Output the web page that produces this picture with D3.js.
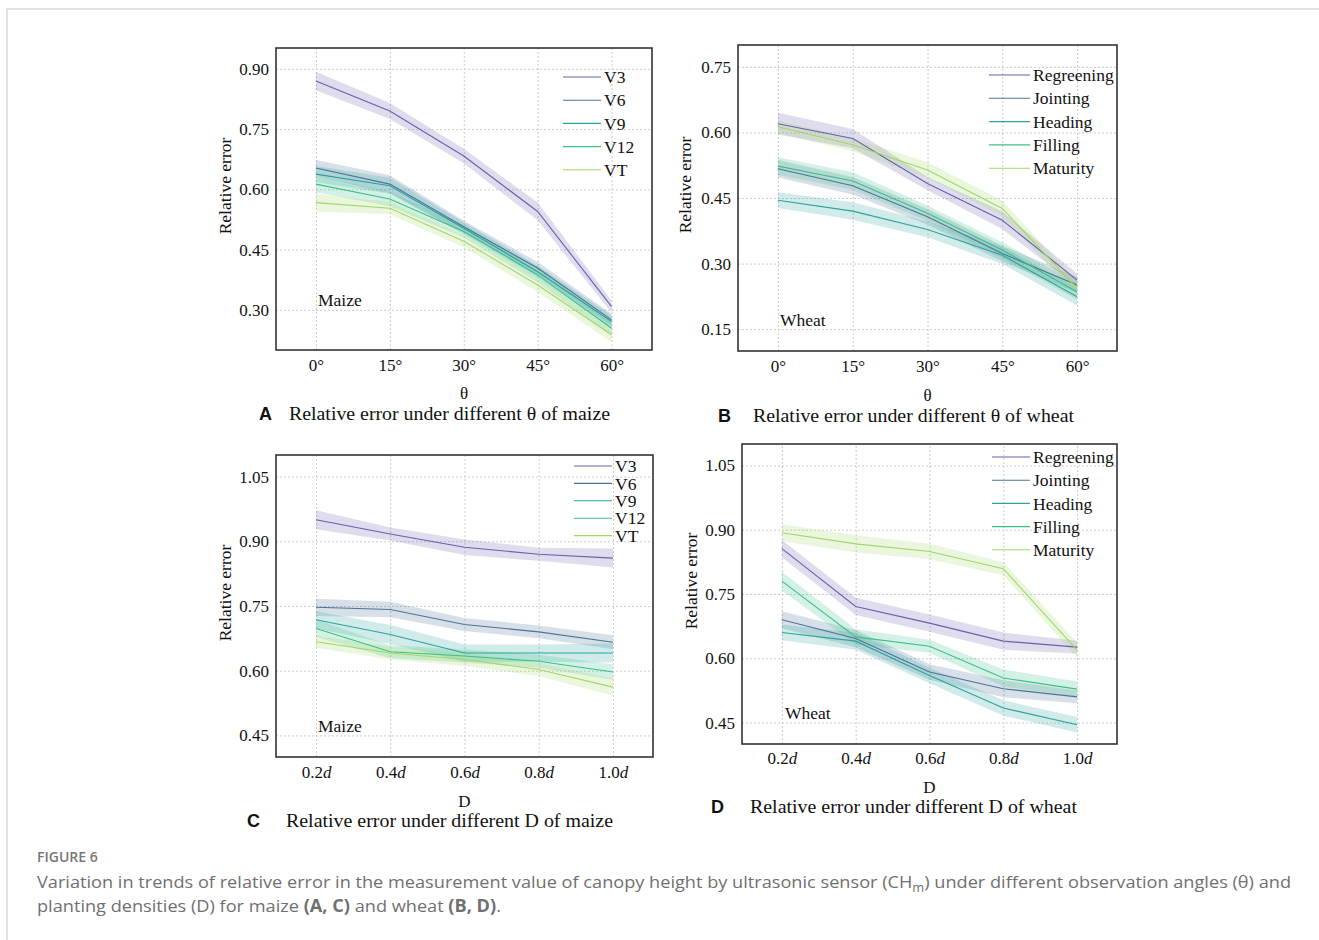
<!DOCTYPE html>
<html>
<head>
<meta charset="utf-8">
<script src="https://cdn.jsdelivr.net/npm/d3@7"></script>
<style>
  body { margin: 0; background: #fff; }
  .grid line { stroke: #cccccc; stroke-dasharray: 2,2; }
</style>
</head>
<body>
<svg width="1319" height="940"></svg>
<script>
// categories / ticks
const thetaValues = [0, 15, 30, 45, 60];
const thetaLabels = ["0°", "15°", "30°", "45°", "60°"];
const densityValues = [0.2, 0.4, 0.6, 0.8, 1.0];
const densityLabels = ["0.2", "0.4", "0.6", "0.8", "1.0"];
const maizeStages = ["V3", "V6", "V9", "V12", "VT"];
const wheatStages = ["Regreening", "Jointing", "Heading", "Filling", "Maturity"];
const colors = ["#6a5fae", "#4a7398", "#2aa39a", "#3cbf88", "#a2d768"];

// A: maize, angle
const maizeThetaMean = [
  [0.870, 0.795, 0.683, 0.545, 0.308],
  [0.653, 0.613, 0.507, 0.404, 0.275],
  [0.638, 0.609, 0.503, 0.395, 0.271],
  [0.613, 0.576, 0.495, 0.387, 0.254],
  [0.567, 0.553, 0.471, 0.362, 0.238]
];
const maizeThetaErr = [
  [0.023, 0.020, 0.018, 0.022, 0.015],
  [0.020, 0.022, 0.015, 0.015, 0.015],
  [0.020, 0.020, 0.015, 0.015, 0.015],
  [0.020, 0.018, 0.015, 0.018, 0.018],
  [0.022, 0.015, 0.015, 0.018, 0.018]
];

// B: wheat, angle
const wheatThetaMean = [
  [0.620, 0.586, 0.483, 0.399, 0.262],
  [0.517, 0.478, 0.407, 0.323, 0.251],
  [0.445, 0.420, 0.378, 0.319, 0.224],
  [0.523, 0.489, 0.415, 0.331, 0.235],
  [0.613, 0.572, 0.514, 0.426, 0.243]
];
const wheatThetaErr = [
  [0.025, 0.022, 0.015, 0.020, 0.015],
  [0.020, 0.020, 0.018, 0.018, 0.018],
  [0.018, 0.020, 0.018, 0.020, 0.020],
  [0.020, 0.020, 0.018, 0.018, 0.018],
  [0.015, 0.015, 0.018, 0.018, 0.015]
];

// C: maize, density
const maizeDensityMean = [
  [0.950, 0.917, 0.886, 0.870, 0.861],
  [0.747, 0.742, 0.707, 0.690, 0.666],
  [0.718, 0.684, 0.641, 0.641, 0.641],
  [0.698, 0.644, 0.634, 0.622, 0.597],
  [0.667, 0.641, 0.626, 0.603, 0.562]
];
const maizeDensityErr = [
  [0.022, 0.015, 0.018, 0.015, 0.022],
  [0.020, 0.018, 0.015, 0.015, 0.016],
  [0.020, 0.022, 0.020, 0.020, 0.022],
  [0.020, 0.015, 0.015, 0.015, 0.018],
  [0.014, 0.015, 0.015, 0.015, 0.020]
];

// D: wheat, density
const wheatDensityMean = [
  [0.856, 0.721, 0.682, 0.640, 0.626],
  [0.690, 0.646, 0.568, 0.529, 0.510],
  [0.660, 0.640, 0.560, 0.484, 0.445],
  [0.780, 0.650, 0.628, 0.554, 0.528],
  [0.893, 0.867, 0.849, 0.809, 0.619]
];
const wheatDensityErr = [
  [0.020, 0.020, 0.020, 0.020, 0.015],
  [0.020, 0.020, 0.018, 0.020, 0.015],
  [0.018, 0.020, 0.018, 0.018, 0.018],
  [0.022, 0.018, 0.015, 0.020, 0.018],
  [0.020, 0.020, 0.018, 0.015, 0.018]
];

const serif = "Liberation Serif, Times New Roman, serif";
const svg = d3.select("svg");

// outer frame
svg.append("rect")
  .attr("x", 7).attr("y", 9).attr("width", 1330).attr("height", 960)
  .attr("fill", "none").attr("stroke", "#cfcfcf").attr("stroke-width", 1.2);

const panels = [
  { box: [276, 48, 652, 350], yDom: [0.2, 0.952], yTicks: [0.30, 0.45, 0.60, 0.75, 0.90],
    xVals: thetaValues, xLabels: thetaLabels, xDom: [-8.1, 68.2], italicD: false, xTitle: "θ",
    mean: maizeThetaMean, err: maizeThetaErr, names: maizeStages, crop: "Maize", cropPos: [318, 306],
    legend: { x: 563, y: 77, dy: 23.2, len: 38 }, yTitleX: 231, tickY: 366, titleY: 399,
    letter: "A", letterX: 259, capX: 289, capY: 420, capW: 321,
    caption: "Relative error under different θ of maize" },
  { box: [738, 45, 1117, 351], yDom: [0.10, 0.80], yTicks: [0.15, 0.30, 0.45, 0.60, 0.75],
    xVals: thetaValues, xLabels: thetaLabels, xDom: [-8, 68], italicD: false, xTitle: "θ",
    mean: wheatThetaMean, err: wheatThetaErr, names: wheatStages, crop: "Wheat", cropPos: [780, 326],
    legend: { x: 989, y: 75, dy: 23.3, len: 41 }, yTitleX: 691, tickY: 367, titleY: 401,
    letter: "B", letterX: 718, capX: 753, capY: 422, capW: 321,
    caption: "Relative error under different θ of wheat" },
  { box: [276, 455, 653, 757], yDom: [0.40, 1.10], yTicks: [0.45, 0.60, 0.75, 0.90, 1.05],
    xVals: densityValues, xLabels: densityLabels, xDom: [0.092, 1.108], italicD: true, xTitle: "D",
    mean: maizeDensityMean, err: maizeDensityErr, names: maizeStages, crop: "Maize", cropPos: [318, 732],
    legend: { x: 574, y: 466, dy: 17.4, len: 38 }, yTitleX: 231, tickY: 773, titleY: 807,
    letter: "C", letterX: 247, capX: 286, capY: 827, capW: 327,
    caption: "Relative error under different D of maize" },
  { box: [742, 444, 1117, 744], yDom: [0.40, 1.10], yTicks: [0.45, 0.60, 0.75, 0.90, 1.05],
    xVals: densityValues, xLabels: densityLabels, xDom: [0.092, 1.108], italicD: true, xTitle: "D",
    mean: wheatDensityMean, err: wheatDensityErr, names: wheatStages, crop: "Wheat", cropPos: [785, 719],
    legend: { x: 992, y: 457, dy: 23.2, len: 38 }, yTitleX: 697, tickY: 759, titleY: 793,
    letter: "D", letterX: 711, capX: 750, capY: 813, capW: 327,
    caption: "Relative error under different D of wheat" }
];

panels.forEach((p) => {
  const [x0, y0, x1, y1] = p.box;
  const x = d3.scaleLinear().domain(p.xDom).range([x0, x1]);
  const y = d3.scaleLinear().domain(p.yDom).range([y1, y0]);
  const g = svg.append("g").attr("font-family", serif).attr("fill", "#111");

  // grid
  g.append("g").attr("class", "grid")
    .attr("transform", `translate(0,${y1})`)
    .call(d3.axisBottom(x).tickValues(p.xVals).tickSize(-(y1 - y0)).tickFormat(""))
    .call((s) => s.select(".domain").remove());
  g.append("g").attr("class", "grid")
    .attr("transform", `translate(${x0},0)`)
    .call(d3.axisLeft(y).tickValues(p.yTicks).tickSize(-(x1 - x0)).tickFormat(""))
    .call((s) => s.select(".domain").remove());

  // bands + lines
  const area = d3.area()
    .x((d) => x(d.x)).y0((d) => y(d.v - d.e)).y1((d) => y(d.v + d.e));
  const line = d3.line().x((d) => x(d.x)).y((d) => y(d.v));
  p.mean.forEach((ser, i) => {
    const pts = ser.map((v, j) => ({ x: p.xVals[j], v: v, e: p.err[i][j] }));
    g.append("path").datum(pts).attr("d", area)
      .attr("fill", colors[i]).attr("fill-opacity", 0.22).attr("stroke", "none");
  });
  p.mean.forEach((ser, i) => {
    const pts = ser.map((v, j) => ({ x: p.xVals[j], v: v }));
    g.append("path").datum(pts).attr("d", line)
      .attr("fill", "none").attr("stroke", colors[i]).attr("stroke-width", 1.1);
  });

  // frame
  g.append("rect").attr("x", x0).attr("y", y0).attr("width", x1 - x0).attr("height", y1 - y0)
    .attr("fill", "none").attr("stroke", "#333").attr("stroke-width", 1.6);

  // y tick labels
  const yAx = g.append("g").attr("transform", `translate(${x0},0)`)
    .call(d3.axisLeft(y).tickValues(p.yTicks).tickSize(0).tickPadding(7).tickFormat(d3.format(".2f")));
  yAx.select(".domain").remove();
  yAx.selectAll("text").attr("font-size", 17).attr("font-family", serif).attr("fill", "#111");

  // x tick labels
  const xAx = g.append("g").attr("transform", `translate(0,${y1})`)
    .call(d3.axisBottom(x).tickValues(p.xVals).tickSize(0).tickFormat((d, i) => p.xLabels[i]));
  xAx.select(".domain").remove();
  xAx.selectAll("text").attr("font-size", 17).attr("font-family", serif)
    .attr("fill", "#111").attr("y", p.tickY - y1).attr("dy", "0.32em");
  if (p.italicD) {
    xAx.selectAll("text").append("tspan").attr("font-style", "italic").text("d");
  }

  // titles
  g.append("text").attr("transform", `translate(${p.yTitleX},${(y0 + y1) / 2 - 13}) rotate(-90)`)
    .attr("text-anchor", "middle").attr("font-size", 17.5).text("Relative error");
  g.append("text").attr("x", (x0 + x1) / 2).attr("y", p.titleY)
    .attr("text-anchor", "middle").attr("font-size", 17).text(p.xTitle);
  g.append("text").attr("x", p.cropPos[0]).attr("y", p.cropPos[1])
    .attr("font-size", 17.5).text(p.crop);

  // legend
  p.names.forEach((n, i) => {
    const ly = p.legend.y + i * p.legend.dy;
    g.append("line").attr("x1", p.legend.x).attr("x2", p.legend.x + p.legend.len)
      .attr("y1", ly).attr("y2", ly).attr("stroke", colors[i]).attr("stroke-width", 1.1);
    g.append("text").attr("x", p.legend.x + p.legend.len + 3).attr("y", ly)
      .attr("dy", "0.35em").attr("font-size", 17.5).text(n);
  });

  // caption
  g.append("text").attr("x", p.letterX).attr("y", p.capY)
    .style("font-family", "Liberation Sans, Arial, sans-serif").attr("font-weight", "bold")
    .attr("font-size", 18).text(p.letter);
  g.append("text").attr("x", p.capX).attr("y", p.capY).attr("font-size", 19.5)
    .attr("textLength", p.capW).attr("lengthAdjust", "spacingAndGlyphs").text(p.caption);
});

// figure caption
const cap = svg.append("g").style("font-family", "Open Sans, sans-serif").attr("fill", "#707070");
cap.append("text").attr("x", 37).attr("y", 862).attr("font-size", 14).attr("font-weight", 600)
  .attr("fill", "#777").text("FIGURE 6");
const l1 = cap.append("text").attr("x", 37).attr("y", 888).attr("font-size", 17)
  .attr("textLength", 1254).attr("lengthAdjust", "spacingAndGlyphs");
l1.append("tspan").text("Variation in trends of relative error in the measurement value of canopy height by ultrasonic sensor (CH");
l1.append("tspan").attr("font-size", 12).attr("dy", 4).text("m");
l1.append("tspan").attr("dy", -4).text(") under different observation angles (θ) and");
const l2 = cap.append("text").attr("x", 37).attr("y", 912).attr("font-size", 17)
  .attr("textLength", 464).attr("lengthAdjust", "spacingAndGlyphs");
l2.append("tspan").text("planting densities (D) for maize ");
l2.append("tspan").attr("font-weight", 700).text("(A, C)");
l2.append("tspan").text(" and wheat ");
l2.append("tspan").attr("font-weight", 700).text("(B, D)");
l2.append("tspan").text(".");
</script>
</body>
</html>
